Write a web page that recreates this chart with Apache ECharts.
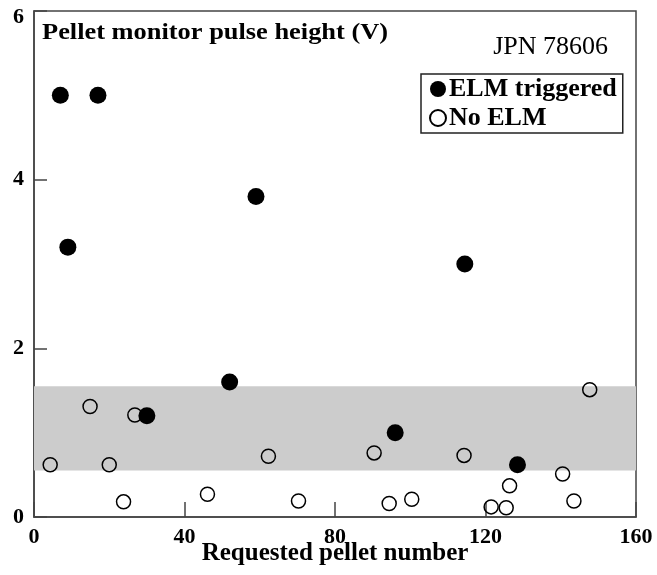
<!DOCTYPE html>
<html>
<head>
<meta charset="utf-8">
<script src="https://cdn.jsdelivr.net/npm/echarts@6/dist/echarts.min.js"></script>
<style>
  html, body { margin: 0; padding: 0; background: #fff; }
  #chart { width: 657px; height: 575px; }
</style>
</head>
<body>
<div id="chart"></div>
<script>
// Pellets that triggered an ELM: requested pellet number vs monitor pulse height (V)
var elmX = [7, 17, 9, 59, 114.5, 52, 30, 96, 128.5];
var elmY = [5.0, 5.0, 3.2, 3.8, 3.0, 1.6, 1.2, 1.0, 0.62];

// Pellets with no ELM
var noElmX = [4.3, 14.9, 26.8, 20, 23.8, 46.1, 62.3, 70.3, 90.4, 94.4, 100.4, 114.3, 121.5, 125.5, 126.4, 140.5, 143.5, 147.7];
var noElmY = [0.62, 1.31, 1.21, 0.62, 0.18, 0.27, 0.72, 0.19, 0.76, 0.16, 0.21, 0.73, 0.12, 0.11, 0.37, 0.51, 0.19, 1.51];

// Trigger threshold band (V)
var bandLow = 0.55;
var bandHigh = 1.55;

var xTicks = [0, 40, 80, 120, 160];
var yTicks = [0, 2, 4, 6];

function pairs(xs, ys) {
  return xs.map(function (x, i) { return [x, ys[i]]; });
}

var FONT = 'Liberation Serif';
var FRAME = '#444';
var yMax = yTicks[yTicks.length - 1];

var chart = echarts.init(document.getElementById('chart'), null, { renderer: 'canvas' });

chart.setOption({
  animation: false,
  backgroundColor: '#fff',
  grid: {
    left: 34, right: 21, top: 11, bottom: 58,
    outerBoundsMode: 'none',
    containLabel: false,
    show: true, borderColor: FRAME, borderWidth: 1.5, backgroundColor: 'transparent'
  },
  xAxis: {
    type: 'value',
    min: xTicks[0], max: xTicks[xTicks.length - 1], interval: 40,
    name: 'Requested pellet number',
    nameLocation: 'middle',
    nameGap: 24,
    nameMoveOverlap: false,
    nameTextStyle: { fontFamily: FONT, fontWeight: 'bold', fontSize: 25, color: '#000' },
    axisLine: { lineStyle: { color: FRAME, width: 1.5 } },
    axisTick: { inside: true, length: 15, lineStyle: { color: FRAME, width: 1.5 } },
    axisLabel: { fontFamily: FONT, fontWeight: 'bold', fontSize: 22, color: '#000', margin: 9 },
    splitLine: { show: false }
  },
  yAxis: {
    type: 'value',
    min: yTicks[0], max: yMax, interval: 2,
    axisLine: { lineStyle: { color: FRAME, width: 1.5 } },
    axisTick: { inside: true, length: 13, lineStyle: { color: FRAME, width: 1.5 } },
    axisLabel: {
      fontFamily: FONT, fontWeight: 'bold', fontSize: 22, color: '#000', margin: 10,
      // the top label sits a little below the frame corner
      formatter: function (v) { return v === yMax ? '{top|' + v + '}' : String(v); },
      rich: {
        top: { fontFamily: FONT, fontWeight: 'bold', fontSize: 22, color: '#000', padding: [12, 0, 0, 0] }
      }
    },
    splitLine: { show: false }
  },
  legend: {
    orient: 'vertical',
    left: 421, top: 74,
    padding: [2, 6, 2, 8],
    itemGap: 3,
    itemWidth: 16, itemHeight: 16,
    borderColor: '#222', borderWidth: 1.5,
    backgroundColor: '#fff',
    textStyle: { fontFamily: FONT, fontWeight: 'bold', fontSize: 26, lineHeight: 26, color: '#000', padding: [0, 0, 0, -2] },
    data: ['ELM triggered', 'No ELM']
  },
  series: [
    {
      name: 'No ELM',
      type: 'scatter',
      symbol: 'circle',
      symbolSize: 14,
      itemStyle: { color: 'rgba(0,0,0,0)', borderColor: '#000', borderWidth: 1.5, opacity: 1 },
      data: pairs(noElmX, noElmY),
      markArea: {
        silent: true,
        itemStyle: { color: '#cccccc' },
        label: { show: false },
        data: [[{ yAxis: bandLow }, { yAxis: bandHigh }]]
      },
      z: 2
    },
    {
      name: 'ELM triggered',
      type: 'scatter',
      symbol: 'circle',
      symbolSize: 17,
      itemStyle: { color: '#000', opacity: 1 },
      data: pairs(elmX, elmY),
      z: 3
    }
  ],
  graphic: [
    {
      type: 'text', x: 42, y: 21, scaleX: 1.1,
      style: { text: 'Pellet monitor pulse height (V)', fontFamily: FONT, fontWeight: 'bold', fontSize: 24, fill: '#000' }
    },
    {
      type: 'text', right: 49, top: 34,
      style: { text: 'JPN 78606', fontFamily: FONT, fontSize: 26, fill: '#000' }
    },
    {
      type: 'text', left: 178, top: 392,
      style: { text: 'Trigger threshold regime', fontFamily: FONT, fontWeight: 'bold', fontSize: 26, fill: '#808080' },
      z: 1
    }
  ]
});
</script>
</body>
</html>
